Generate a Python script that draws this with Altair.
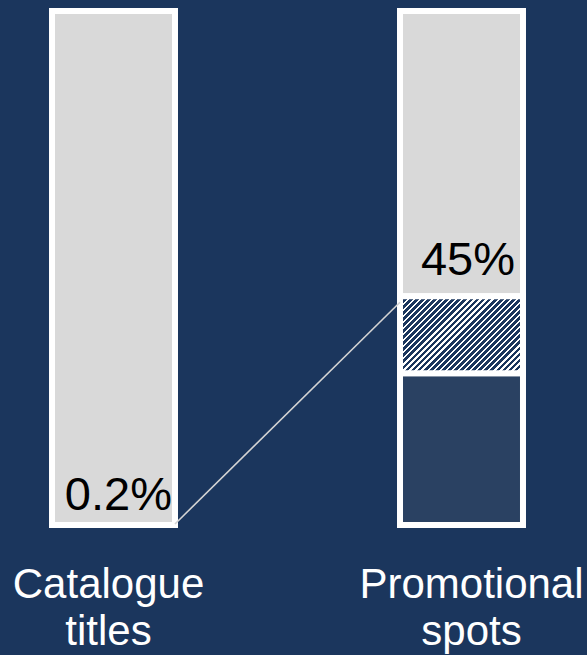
import altair as alt
import pandas as pd

# ---- data ----
categories = ["Catalogue titles", "Promotional spots"]
catalogue_share = [0.2]      # % share shown on catalogue bar
promo_solid = [29.5]         # % dark segment of promotional bar
promo_hatched = [15.0]       # % hatched segment of promotional bar
value_labels = ["0.2%", "45%"]

# ---- styling ----
BG = "#1b365d"
GRAY = "#d9d9d9"
DARK = "#2a4162"
FONT = "Liberation Sans"
PLOT_W, PLOT_H = 587, 514

promo_total = promo_solid[0] + promo_hatched[0]

bars = pd.DataFrame({"cat": categories, "start": [0, 0], "end": [100, 100]})
segs = pd.DataFrame({
    "cat": [categories[0], categories[1], categories[1]],
    "start": [0, promo_total, 0],
    "end": [100, 100, promo_solid[0]],
    "kind": ["gray", "gray", "dark"],
})
hatch = pd.DataFrame({"cat": [categories[1]], "start": [promo_solid[0]], "end": [promo_total]})
conn = pd.DataFrame({"from_cat": [categories[0]], "to_cat": [categories[1]],
                     "y1": [catalogue_share[0]], "y2": [promo_total]})
lab0 = pd.DataFrame({"cat": [categories[0]], "v": [catalogue_share[0]], "label": [value_labels[0]]})
lab1 = pd.DataFrame({"cat": [categories[1]], "v": [promo_total], "label": [value_labels[1]]})

xscale = alt.Scale(domain=categories, paddingInner=0.6466, paddingOuter=0.1667, align=0.4483)
yscale = alt.Scale(domain=[0, 100], nice=False, zero=True)

xaxis = alt.Axis(
    title=None, ticks=False, domain=False, tickSize=0, labelPadding=39,
    labelFont=FONT, labelFontSize=42, labelColor="white", labelLineHeight=47,
    labelBaseline="top", labelLimit=400, labelAngle=0,
    labelExpr="split(datum.label, ' ')",
    labelOffset={"condition": {"test": f"datum.value === '{categories[0]}'", "value": -5}, "value": 10},
)


def X(field, **kw):
    return alt.X(f"{field}:N", scale=xscale, axis=xaxis, sort=categories, **kw)


def Y(field):
    return alt.Y(f"{field}:Q", scale=yscale, axis=None)


underlay = alt.Chart(bars).mark_bar(fill="white", stroke="white", strokeWidth=4, cornerRadius=3).encode(
    x=X("cat"), y=Y("start"), y2="end"
)

segments = alt.Chart(segs).mark_bar(stroke="white", strokeWidth=6).encode(
    x=X("cat"), y=Y("start"), y2="end",
    color=alt.Color("kind:N", scale=alt.Scale(domain=["gray", "dark"], range=[GRAY, DARK]), legend=None),
)

# diagonal hatching via a striped linear gradient
bw = PLOT_W / (2 - 0.6466 + 2 * 0.1667) * (1 - 0.6466)
hh = promo_hatched[0] / 100 * PLOT_H
r = hh / bw
k = (1 + r) / (1 + r * r)
n = int(round((bw + hh) / 6))
stops = []
for i in range(n):
    a = i / n
    b = (i + 0.62) / n
    c = (i + 1) / n
    stops += [alt.GradientStop(offset=a, color=BG), alt.GradientStop(offset=b, color=BG),
              alt.GradientStop(offset=b, color="white"), alt.GradientStop(offset=c, color="white")]
grad = alt.LinearGradient(gradient="linear", stops=stops, x1=0, y1=0, x2=k, y2=k * r)

hatched = alt.Chart(hatch).mark_bar(fill=grad, stroke="white", strokeWidth=6).encode(
    x=X("cat"), y=Y("start"), y2="end"
)

connector = alt.Chart(conn).mark_rule(color="#d4d4d4", strokeWidth=1.6, y2Offset=6).encode(
    x=X("from_cat", bandPosition=1),
    x2=alt.X2("to_cat", bandPosition=0),
    y=Y("y1"), y2="y2",
)

t0 = alt.Chart(lab0).mark_text(font=FONT, fontSize=47, color="black", align="right",
                                baseline="alphabetic", dx=-3, dy=-14).encode(
    x=X("cat", bandPosition=1), y=Y("v"), text="label:N"
)
t1 = alt.Chart(lab1).mark_text(font=FONT, fontSize=47, color="black", align="right",
                                baseline="alphabetic", dx=-8, dy=-21).encode(
    x=X("cat", bandPosition=1), y=Y("v"), text="label:N"
)

chart = alt.layer(underlay, segments, hatched, connector, t0, t1).properties(
    width=PLOT_W, height=PLOT_H,
    background=BG,
    autosize=alt.AutoSizeParams(type="none"),
    padding={"left": 0, "top": 11, "right": 0, "bottom": 130},
).configure_view(stroke=None)

chart.save("out.html", embed_options={"renderer": "svg", "actions": False})
